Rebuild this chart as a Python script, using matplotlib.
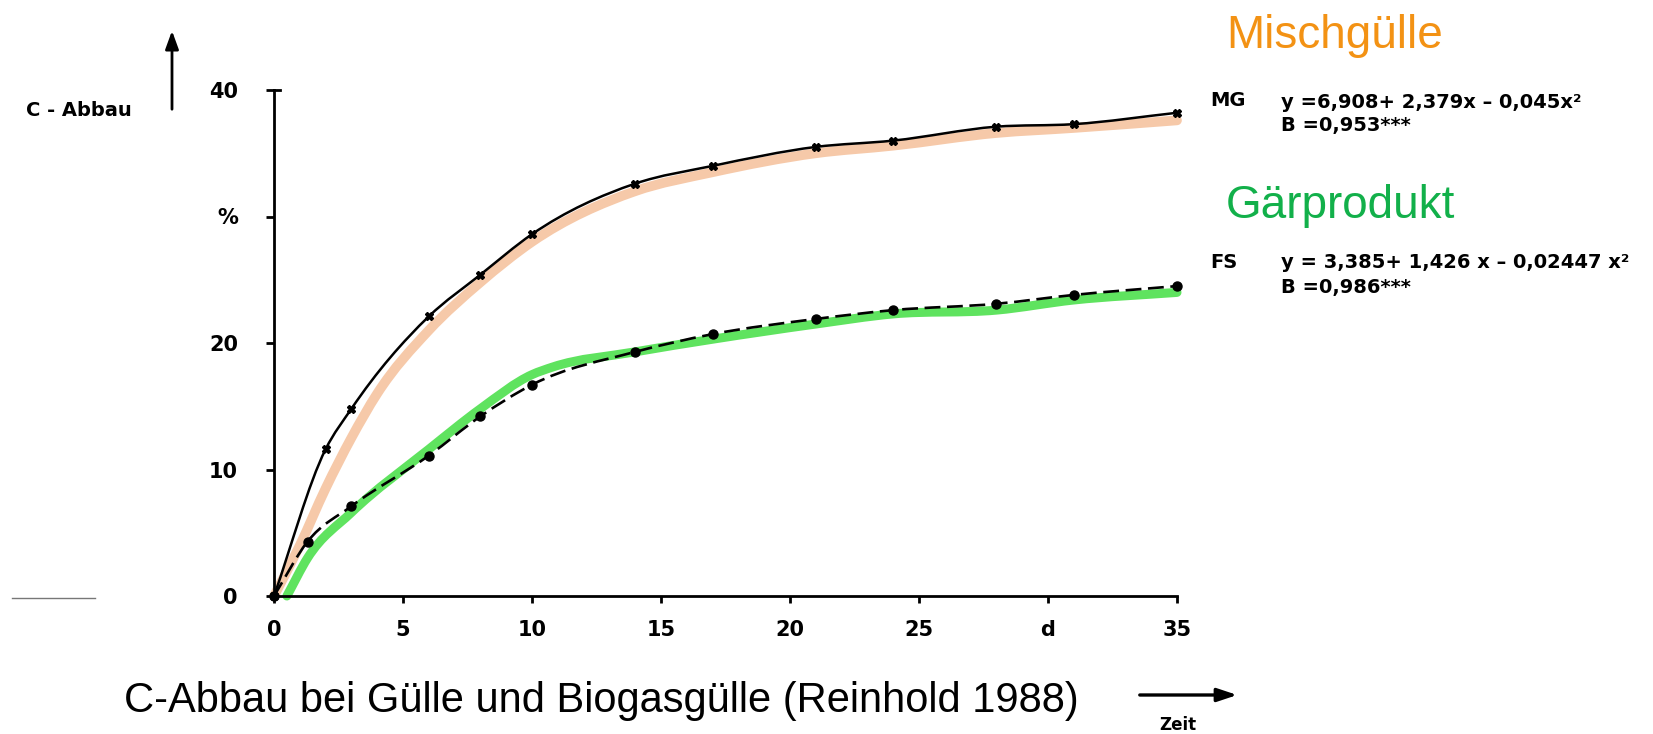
import numpy as np
import matplotlib
matplotlib.use("Agg")
import matplotlib.pyplot as plt
from matplotlib.lines import Line2D
from matplotlib.path import Path
from matplotlib.patches import PathPatch

# Sampling days and C-Abbau (%) for both slurries
tage_mg = [0, 2, 3, 6, 8, 10, 14, 17, 21, 24, 28, 31, 35]
abbau_mg = [0, 11.6, 14.8, 22.1, 25.4, 28.6, 32.6, 34.0, 35.5, 36.0, 37.1, 37.3, 38.2]

tage_fs = [0, 1.3, 3, 6, 8, 10, 14, 17, 21, 24, 28, 31, 35]
abbau_fs = [0, 4.3, 7.1, 11.1, 14.2, 16.7, 19.3, 20.7, 21.9, 22.6, 23.1, 23.8, 24.5]

# Hand-drawn colour highlights behind the two curves
hl_mg_x = [0, 1, 2, 3, 4, 6, 8, 10, 14, 17, 21, 24, 28, 31, 35]
hl_mg_y = [0, 4.0, 8.5, 12.5, 16.0, 21.0, 24.8, 28.0, 32.0, 33.5, 35.0, 35.6, 36.6, 37.0, 37.6]
hl_fs_x = [0.5, 1.3, 3, 6, 8, 10, 10.8, 14, 17, 21, 24, 28, 31, 35]
hl_fs_y = [0, 3.0, 6.6, 11.6, 14.8, 17.5, 18.1, 19.3, 20.3, 21.5, 22.3, 22.6, 23.4, 24.0]

x_ticks = [0, 5, 10, 15, 20, 25, 30, 35]
x_labels = ['0', '5', '10', '15', '20', '25', 'd', '35']
y_ticks = [0, 10, 20, 30, 40]
y_labels = ['0', '10', '20', '%', '40']

W, H = 1653, 734
fig = plt.figure(figsize=(W / 100, H / 100), dpi=100)
ax = fig.add_axes([274 / W, 1 - 596 / H, (1177 - 274) / W, (596 - 90) / H])


def fx(px):
    return px / W


def fy(py):
    return 1 - py / H


def smooth_path(xs, ys):
    # cubic Hermite pieces (as Bezier curves) through the points, slopes from
    # weighted neighbouring secants
    x = np.asarray(xs, float)
    y = np.asarray(ys, float)
    h = np.diff(x)
    d = np.diff(y) / h
    m = np.empty_like(x)
    m[0], m[-1] = d[0], d[-1]
    m[1:-1] = (h[1:] * d[:-1] + h[:-1] * d[1:]) / (h[:-1] + h[1:])
    verts = [(x[0], y[0])]
    codes = [Path.MOVETO]
    for i in range(len(x) - 1):
        t = h[i] / 3
        verts += [(x[i] + t, y[i] + m[i] * t), (x[i + 1] - t, y[i + 1] - m[i + 1] * t), (x[i + 1], y[i + 1])]
        codes += [Path.CURVE4] * 3
    return Path(verts, codes)


def draw_curve(xs, ys, **kw):
    ax.add_patch(PathPatch(smooth_path(xs, ys), fill=False, clip_on=False, **kw))


# highlights
draw_curve(hl_mg_x, hl_mg_y, ec='#f6c9a9', lw=7, capstyle='round', joinstyle='round', zorder=1)
draw_curve(hl_fs_x, hl_fs_y, ec='#5fe35f', lw=6.5, capstyle='round', joinstyle='round', zorder=1)

# measured curves
draw_curve(tage_mg, abbau_mg, ec='black', lw=1.8, zorder=3)
draw_curve(tage_fs, abbau_fs, ec='black', lw=1.9, ls=(0, (6, 2.5)), zorder=3)
ax.plot(tage_mg, abbau_mg, ls='none', color='black', marker='X', ms=6, clip_on=False, zorder=4)
ax.plot(tage_fs, abbau_fs, ls='none', color='black', marker='o', ms=6.5, clip_on=False, zorder=4)

ax.set_xlim(0, 35)
ax.set_ylim(0, 40)
for s in ['top', 'right']:
    ax.spines[s].set_visible(False)
for s in ['left', 'bottom']:
    ax.spines[s].set_linewidth(2)
ax.plot([0, 0.25], [40, 40], color='black', lw=2, clip_on=False)

ax.set_xticks(x_ticks)
ax.set_xticklabels(x_labels)
ax.set_yticks(y_ticks)
ax.set_yticklabels(y_labels)
ax.tick_params(axis='x', length=5, width=2, pad=12, labelsize=15)
ax.tick_params(axis='y', length=6, width=2, pad=20, labelsize=15)
for lbl in ax.get_xticklabels() + ax.get_yticklabels():
    lbl.set_fontweight('bold')

# y axis caption with arrow
fig.text(fx(26), fy(111), 'C - Abbau', fontsize=14, fontweight='bold', va='center', ha='left')
ax.annotate('', xy=(fx(172), fy(28)), xytext=(fx(172), fy(112)),
            xycoords='figure fraction', textcoords='figure fraction',
            arrowprops=dict(arrowstyle='-|>,head_length=1.1,head_width=0.4', lw=2, color='black'))

# time arrow
ax.annotate('', xy=(fx(1240), fy(695)), xytext=(fx(1137), fy(695)),
            xycoords='figure fraction', textcoords='figure fraction',
            arrowprops=dict(arrowstyle='-|>,head_length=1.2,head_width=0.4', lw=2.4, color='black'))
fig.text(fx(1178), fy(725), 'Zeit', fontsize=12, fontweight='bold', ha='center', va='center')

# series names
fig.text(fx(1226), fy(36), 'Mischgülle', color='#f39214', fontsize=33,
         family=['Liberation Sans', 'DejaVu Sans'], ha='left', va='center')
fig.text(fx(1226), fy(206), 'Gärprodukt', color='#12b04a', fontsize=33,
         family=['Liberation Sans', 'DejaVu Sans'], ha='left', va='center')

# regression equations
eq_kw = dict(fontsize=14, fontweight='bold', ha='left', va='center')
fig.text(fx(1210), fy(101), 'MG', **eq_kw)
fig.text(fx(1281), fy(102), 'y =6,908+ 2,379x \u2013 0,045x²', **eq_kw)
fig.text(fx(1281), fy(126), 'B =0,953***', **eq_kw)
fig.text(fx(1210), fy(262), 'FS', **eq_kw)
fig.text(fx(1281), fy(262), 'y = 3,385+ 1,426 x \u2013 0,02447 x²', **eq_kw)
fig.text(fx(1281), fy(288), 'B =0,986***', **eq_kw)

# caption
fig.text(fx(124), fy(701), 'C-Abbau bei Gülle und Biogasgülle (Reinhold 1988)', fontsize=30,
         family=['Liberation Sans', 'DejaVu Sans'], ha='left', va='center')

# short stray rule at the left margin
fig.add_artist(Line2D([fx(12), fx(95)], [fy(598), fy(598)], color='#777777', lw=1))

fig.savefig('out.png', dpi=100, facecolor='white')
